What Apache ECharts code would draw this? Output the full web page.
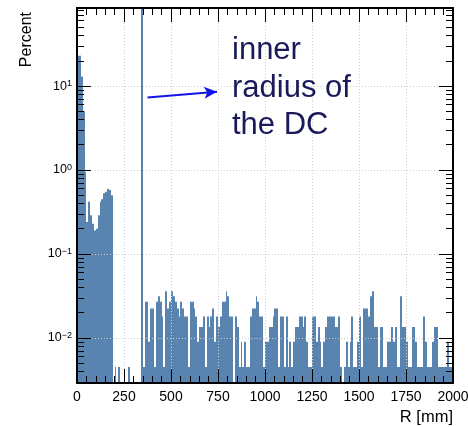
<!DOCTYPE html>
<html><head><meta charset="utf-8">
<script src="https://cdn.jsdelivr.net/npm/echarts@6/dist/echarts.min.js"></script>
<style>html,body{margin:0;padding:0;background:#fff}#c{width:468px;height:427px}</style>
</head><body><div id="c"></div>
<script>
// ---- data (percent per 10 mm bin of R) ----
const binWidth = 10; // mm
const innerRegion = [23, 23, 13, 5, 0.95, 0.24, 0.42, 0.29, 0.23, 0.19, 0.2, 0.29, 0.42, 0.45, 0.53, 0.55, 0.6, 0.58, 0.5, 0]; // 0-200 mm
const gapRegion = [0.0045, 0, 0.0045, 0, 0, 0, 0, 0.0045, 0, 0, 0, 0, 0, 0]; // 200-340 mm
const wallBin = [90]; // 340-350 mm (inner radius of the DC), clipped
const outerRegion = [ // 350-2000 mm
  0.0045,0.027,0.027,0.009,0.0225,0.0225,0.0045,0.027,0.0315,0.027,
  0.018,0.0045,0.036,0.0225,0.027,0.036,0.0315,0.027,0.0225,0.018,
  0.027,0.0225,0.018,0.018,0.0045,0.027,0.027,0.0225,0.018,0.009,
  0.0135,0.0135,0.018,0.0045,0.018,0.0135,0.018,0.0225,0.009,0.018,
  0.0135,0.018,0.027,0.027,0.036,0.0315,0.018,0.018,0,0.018,
  0.0135,0.0045,0.009,0.0045,0.009,0.0045,0.0045,0.018,0.0225,0.0225,
  0.0315,0.027,0.018,0.018,0.0045,0.009,0.009,0.0135,0.0135,0.018,
  0.0225,0.0225,0.0045,0.018,0.018,0.0045,0.018,0.0045,0.009,0.0045,
  0.009,0.0135,0.0135,0.018,0.018,0.0135,0.018,0.009,0.0045,0.0045,
  0.018,0.018,0.009,0.0135,0.009,0.0045,0.009,0.0135,0.018,0.018,
  0.018,0.018,0.0135,0.0135,0.018,0.0045,0,0.0045,0.009,0.0045,
  0.009,0.018,0.0045,0.0045,0.009,0.018,0.0045,0.0225,0.0225,0.0225,
  0.018,0.0315,0.036,0.0135,0.0135,0.0045,0.0135,0.0135,0.0045,0.0045,
  0.009,0.009,0.0135,0.009,0.0135,0.0045,0.0045,0.0315,0.0135,0.0135,
  0.009,0.0045,0.0045,0.0135,0.0135,0.009,0.0045,0.0045,0.0045,0.018,
  0.009,0.0045,0.0045,0.0045,0.009,0.0135,0.0135,0.0045,0.0045,0.0045,
  0.0045,0.0045,0.009,0.0045,0.0045
];
const xTickValues = [0, 250, 500, 750, 1000, 1250, 1500, 1750, 2000];
const yDecadeExponents = [-2, -1, 0, 1];
const yMinorTickValues = [0.003,0.004,0.005,0.006,0.007,0.008,0.009,
  0.02,0.03,0.04,0.05,0.06,0.07,0.08,0.09,
  0.2,0.3,0.4,0.5,0.6,0.7,0.8,0.9,
  2,3,4,5,6,7,8,9,
  20,30,40,50,60,70,80];
const annotationText = ['inner', 'radius of', 'the DC'];
const arrowFrom = [375, 7.3];
const arrowTo = [745, 8.55];

// ---- chart ----
const percent = innerRegion.concat(gapRegion, wallBin, outerRegion);
const yMin = 0.00291, yMax = 85;
const xMin = xTickValues[0], xMax = xTickValues[xTickValues.length - 1];
const barColor = '#5a84b0';
const FONT = '"Liberation Sans", Arial, Helvetica, sans-serif';

const histData = [];
percent.forEach((v, i) => { if (v > 0) histData.push([i * binWidth, (i + 1) * binWidth, v]); });

function supLabel(v) {
  const e = Math.round(Math.log10(v));
  if (yDecadeExponents.indexOf(e) < 0) return '';
  return '{b|10}{e|' + (e < 0 ? '\u2212' + (-e) : String(e)) + '}';
}

const black = {color: '#000'};
const majorLen = 14, minorLen = 7;
const gridLine = {show: true, showMinLine: false, showMaxLine: false, lineStyle: {color: '#cfcfcf', type: [1, 2], width: 1}};

const chart = echarts.init(document.getElementById('c'), null, {renderer: 'canvas'});
chart.setOption({
  animation: false,
  backgroundColor: '#fff',
  grid: {left: 77, right: 15, top: 8, bottom: 44, containLabel: false, outerBoundsMode: 'none'},
  xAxis: [
    {type: 'value', min: xMin, max: xMax, interval: 250, position: 'bottom', z: 3,
     axisLine: {onZero: false, lineStyle: {color: '#000', width: 2}},
     axisTick: {inside: true, length: majorLen, lineStyle: black},
     minorTick: {show: true, splitNumber: 5, length: minorLen, lineStyle: black},
     axisLabel: {fontSize: 14, color: '#000', margin: 7, fontFamily: FONT, formatter: v => String(v)},
     splitLine: gridLine},
    {type: 'value', min: xMin, max: xMax, interval: 250, position: 'top', z: 3,
     axisLine: {onZero: false, lineStyle: {color: '#000', width: 2}},
     axisTick: {inside: true, length: majorLen, lineStyle: black},
     minorTick: {show: true, splitNumber: 5, length: minorLen, lineStyle: black},
     axisLabel: {show: false}, splitLine: {show: false}}
  ],
  yAxis: [
    {type: 'log', min: yMin, max: yMax, position: 'left', z: 3,
     axisLine: {onZero: false, lineStyle: {color: '#000', width: 2}},
     axisTick: {inside: true, length: majorLen, lineStyle: black},
     axisLabel: {margin: 5, showMinLabel: false, showMaxLabel: false, formatter: supLabel, color: '#000',
       rich: {b: {fontSize: 12.5, fontFamily: FONT, color: '#000', lineHeight: 14},
              e: {fontSize: 9, fontFamily: FONT, color: '#000', verticalAlign: 'top', lineHeight: 9}}},
     splitLine: gridLine},
    {type: 'value', min: Math.log10(yMin), max: Math.log10(yMax), position: 'left', z: 3,
     axisLine: {show: false, onZero: false},
     axisTick: {inside: true, length: minorLen, lineStyle: black, customValues: yMinorTickValues.map(Math.log10)},
     axisLabel: {show: false}, splitLine: {show: false}},
    {type: 'log', min: yMin, max: yMax, position: 'right', z: 3,
     axisLine: {onZero: false, lineStyle: {color: '#000', width: 2}},
     axisTick: {inside: true, length: majorLen, lineStyle: black},
     axisLabel: {show: false}, splitLine: {show: false}},
    {type: 'value', min: Math.log10(yMin), max: Math.log10(yMax), position: 'right', z: 3,
     axisLine: {show: false, onZero: false},
     axisTick: {inside: true, length: minorLen, lineStyle: black, customValues: yMinorTickValues.map(Math.log10)},
     axisLabel: {show: false}, splitLine: {show: false}}
  ],
  series: [
    {type: 'custom', xAxisIndex: 0, yAxisIndex: 0, z: 2, clip: true,
     encode: {x: [0, 1], y: 2},
     data: histData,
     renderItem: function (params, api) {
       const p0 = api.coord([api.value(0), api.value(2)]);
       const p1 = api.coord([api.value(1), yMin]);
       const cs = params.coordSys;
       const x0 = Math.round(p0[0]), x1 = Math.round(p1[0]);
       const top = Math.max(p0[1], cs.y);
       if (x1 <= x0) return null;
       return {type: 'rect', shape: {x: x0, y: top, width: x1 - x0, height: p1[1] - top},
         style: {fill: barColor}};
     }},
    {type: 'line', xAxisIndex: 0, yAxisIndex: 0, data: [], silent: true,
     markLine: {silent: true, symbol: ['none', 'arrow'], symbolSize: [9, 13],
       label: {show: false},
       lineStyle: {color: '#1414e6', width: 2, type: 'solid'},
       data: [[{coord: arrowFrom}, {coord: arrowTo}]]}}
  ],
  graphic: [
    {type: 'text', x: 27, y: 12, rotation: Math.PI / 2,
     style: {text: 'Percent', align: 'right', verticalAlign: 'middle', font: '16px ' + FONT, fill: '#000'}},
    {type: 'text', x: 453, y: 426,
     style: {text: 'R [mm]', align: 'right', verticalAlign: 'bottom', font: '16.5px ' + FONT, fill: '#000'}},
    {type: 'text', x: 232, y: 32, z: 10,
     style: {text: annotationText.join('\n'), align: 'left', verticalAlign: 'top', font: '31px ' + FONT, lineHeight: 37.5, fill: '#1a1a5a'}}
  ]
});
</script></body></html>
